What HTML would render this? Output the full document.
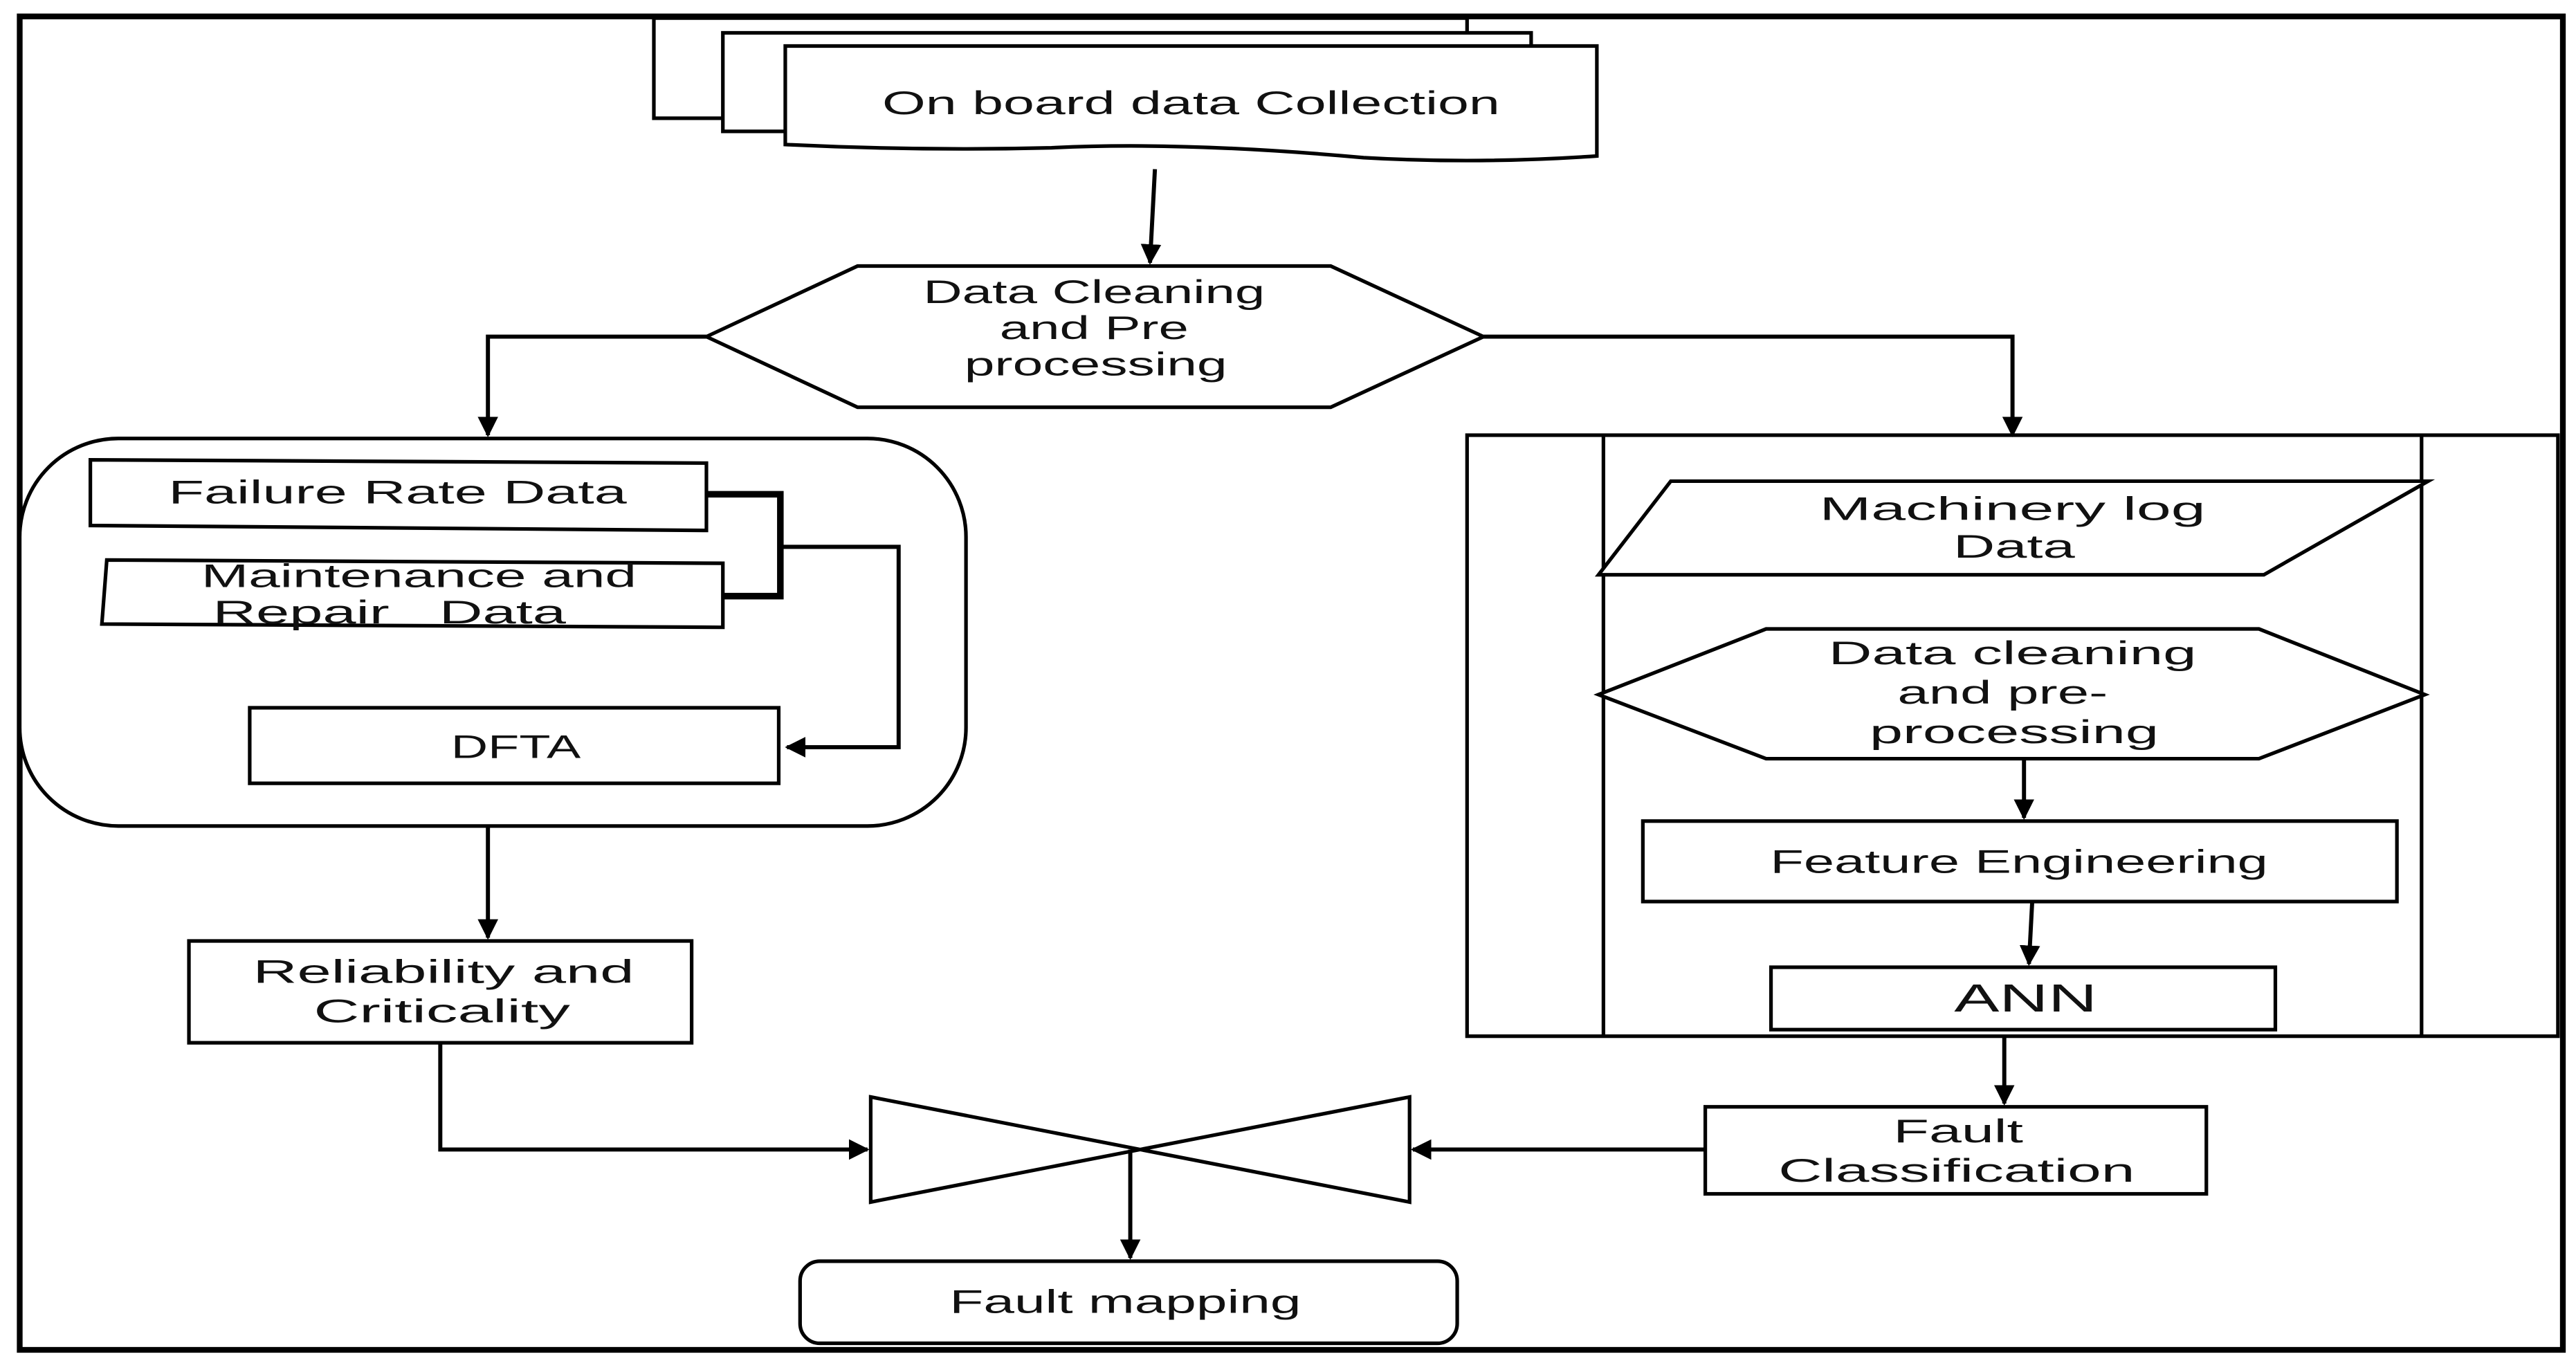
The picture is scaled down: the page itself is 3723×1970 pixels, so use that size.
<!DOCTYPE html>
<html><head><meta charset="utf-8"><style>
html,body{margin:0;padding:0;background:#fff;}
svg{display:block;}
text{font-family:"Liberation Sans",sans-serif;font-size:20px;fill:#111;text-anchor:middle;dominant-baseline:central;}
</style></head><body>
<svg width="3723" height="1970" viewBox="0 0 1568 830" preserveAspectRatio="none">
<defs>
<marker id="a" viewBox="0 0 10 10" refX="9" refY="5" markerWidth="5" markerHeight="5" orient="auto" markerUnits="strokeWidth">
<path d="M0,0 L10,5 L0,10 z" fill="#000"/></marker>
</defs>
<g fill="#fff" stroke="#000" stroke-width="2.2">
<rect x="12" y="10" width="1548" height="812" stroke-width="3.5"/>
<rect x="398" y="11" width="495" height="61"/>
<rect x="440" y="20" width="492" height="60"/>
<path d="M478,28 L972,28 L972,95 Q900,100 830,96 Q720,86 640,90 Q560,92 478,88 Z"/>
<polygon points="430,205 522,162 810,162 903,205 810,248 522,248"/>
<rect x="12" y="267" width="576" height="236" rx="60" ry="60"/>
<polygon points="55,280 430,282 430,323 55,320"/>
<polygon points="65,341 440,343 440,382 62,380"/>
<rect x="152" y="431" width="322" height="46"/>
<rect x="115" y="573" width="306" height="62"/>
<polygon points="530,668 858,732 858,668 530,732"/>
<rect x="487" y="768" width="400" height="50" rx="12" ry="12"/>
<rect x="893" y="265" width="664" height="366"/>
<line x1="976" y1="265" x2="976" y2="631"/>
<line x1="1474" y1="265" x2="1474" y2="631"/>
<polygon points="1017,293 1478,293 1378,350 973,350"/>
<polygon points="973,423 1075,383 1375,383 1476,423 1375,462 1075,462"/>
<rect x="1000" y="500" width="459" height="49"/>
<rect x="1078" y="589" width="307" height="38"/>
<rect x="1038" y="674" width="305" height="53"/>
</g>
<g fill="none" stroke="#000" stroke-width="2.5">
<line x1="703" y1="103" x2="700" y2="160" marker-end="url(#a)"/>
<polyline points="430,205 297,205 297,265" marker-end="url(#a)"/>
<polyline points="903,205 1225,205 1225,265" marker-end="url(#a)"/>
<polyline points="430,301 475,301 475,363 440,363" stroke-width="4"/>
<polyline points="475,333 547,333 547,455 479,455" marker-end="url(#a)"/>
<line x1="297" y1="503" x2="297" y2="571" marker-end="url(#a)"/>
<polyline points="268,635 268,700 528,700" marker-end="url(#a)"/>
<line x1="688" y1="700" x2="688" y2="766" marker-end="url(#a)"/>
<line x1="1232" y1="462" x2="1232" y2="498" marker-end="url(#a)"/>
<line x1="1237" y1="549" x2="1235" y2="587" marker-end="url(#a)"/>
<line x1="1220" y1="631" x2="1220" y2="672" marker-end="url(#a)"/>
<line x1="1038" y1="700" x2="860" y2="700" marker-end="url(#a)"/>
</g>
<g>
<text x="725" y="63" textLength="376" lengthAdjust="spacingAndGlyphs">On board data Collection</text>
<text x="666" y="178" textLength="208" lengthAdjust="spacingAndGlyphs">Data Cleaning</text>
<text x="666" y="200" textLength="115" lengthAdjust="spacingAndGlyphs">and Pre</text>
<text x="667" y="222" textLength="160" lengthAdjust="spacingAndGlyphs">processing</text>
<text x="242" y="300" textLength="279" lengthAdjust="spacingAndGlyphs">Failure Rate Data</text>
<text x="255" y="351" textLength="265" lengthAdjust="spacingAndGlyphs">Maintenance and</text>
<text x="237" y="373" textLength="215" lengthAdjust="spacingAndGlyphs">Repair&#160;&#160; Data</text>
<text x="314" y="455" textLength="79" lengthAdjust="spacingAndGlyphs">DFTA</text>
<text x="270" y="592" textLength="232" lengthAdjust="spacingAndGlyphs">Reliability and</text>
<text x="269" y="616" textLength="156" lengthAdjust="spacingAndGlyphs">Criticality</text>
<text x="1225" y="310" textLength="235" lengthAdjust="spacingAndGlyphs">Machinery log</text>
<text x="1226" y="333" textLength="74" lengthAdjust="spacingAndGlyphs">Data</text>
<text x="1225" y="398" textLength="224" lengthAdjust="spacingAndGlyphs">Data cleaning</text>
<text x="1219" y="422" textLength="128" lengthAdjust="spacingAndGlyphs">and pre-</text>
<text x="1226" y="446" textLength="176" lengthAdjust="spacingAndGlyphs">processing</text>
<text x="1229" y="525" textLength="303" lengthAdjust="spacingAndGlyphs">Feature Engineering</text>
<text x="1233" y="608" style="font-size:24px" textLength="87" lengthAdjust="spacingAndGlyphs">ANN</text>
<text x="1192" y="689" textLength="79" lengthAdjust="spacingAndGlyphs">Fault</text>
<text x="1191" y="713" textLength="217" lengthAdjust="spacingAndGlyphs">Classification</text>
<text x="685" y="793" textLength="214" lengthAdjust="spacingAndGlyphs">Fault mapping</text>
</g>
</svg>
</body></html>
